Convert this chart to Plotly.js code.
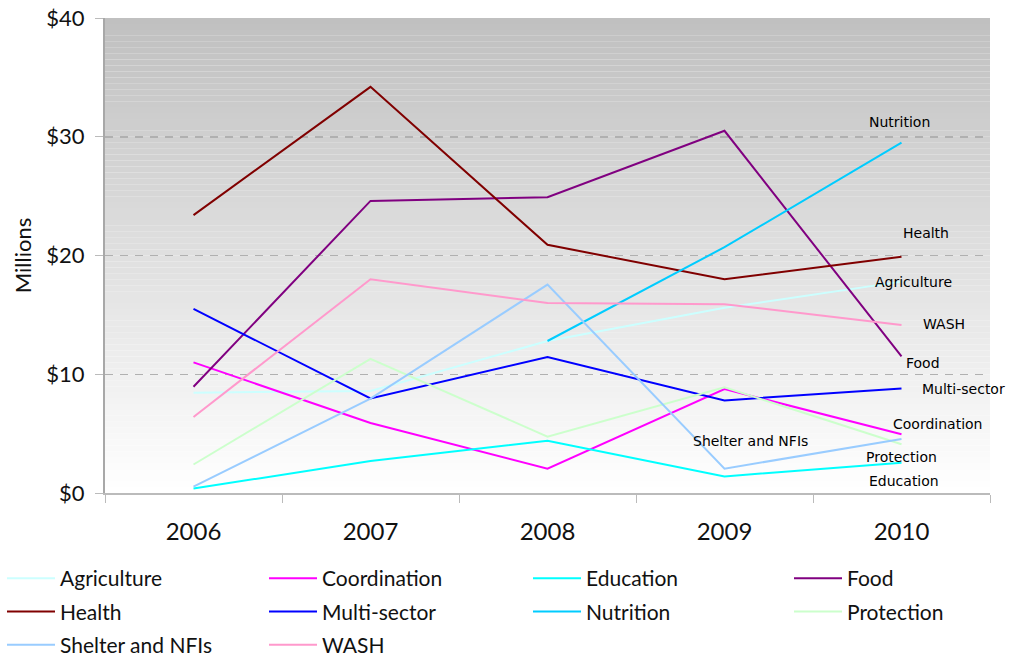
<!DOCTYPE html>
<html>
<head>
<meta charset="utf-8">
<script src="https://cdn.plot.ly/plotly-3.0.1.min.js"></script>
<style>html,body{margin:0;padding:0;background:#fff;}#chart{width:1012px;height:656px;}</style>
</head>
<body>
<div id="chart"></div>
<script>
const years = ['2006','2007','2008','2009','2010'];
const seriesNames = ['Agriculture','Coordination','Education','Food','Health','Multi-sector','Nutrition','Protection','Shelter and NFIs','WASH'];
const agriculture = [8.45, 8.6, 12.8, 15.6, 17.8];
const coordination = [11.0, 5.9, 2.05, 8.75, 4.95];
const education = [0.37, 2.7, 4.4, 1.4, 2.55];
const food = [8.95, 24.6, 24.9, 30.5, 11.5];
const health = [23.4, 34.2, 20.9, 18.0, 19.9];
const multiSector = [15.5, 7.97, 11.45, 7.8, 8.8];
const nutrition = [null, null, 12.8, 20.7, 29.5];
const protection = [2.4, 11.3, 4.75, 8.9, 4.1];
const shelter = [0.53, 7.95, 17.55, 2.05, 4.55];
const wash = [6.4, 18.0, 16.0, 15.9, 14.15];
const seriesValues = [agriculture, coordination, education, food, health, multiSector, nutrition, protection, shelter, wash];
const colors = ['#ccffff','#ff00ff','#00ffff','#800080','#800000','#0000ff','#00ccff','#ccffcc','#99ccff','#ff99cc'];
// legend column for each series (4 columns, row-major like the original)
const legendColumn = ['legend','legend2','legend3','legend4','legend','legend2','legend3','legend4','legend','legend2'];
// label offsets (px) from the 2010 point
const labelShift = {
  'Agriculture':[12,0], 'Coordination':[36,10], 'Education':[2,-18], 'Food':[21,-7],
  'Health':[24,24], 'Multi-sector':[62,0], 'Nutrition':[-2,21], 'Protection':[0,-13],
  'Shelter and NFIs':[-151,-2], 'WASH':[42,1]
};

const traces = seriesNames.map((n,i)=>({
  type:'scatter', mode:'lines', name:n, x:years, y:seriesValues[i],
  line:{color:colors[i], width:2}, connectgaps:false, hoverinfo:'skip',
  legend:legendColumn[i], legendgroup:n
}));

const lastIndex = years.length - 1;
const annotations = seriesNames.map((n,i)=>({
  x: lastIndex, y: seriesValues[i][lastIndex], xref:'x', yref:'y', text:n, showarrow:false,
  xshift: labelShift[n][0], yshift: labelShift[n][1],
  font:{family:'DejaVu Sans', size:14, color:'#000000'}, xanchor:'center', yanchor:'middle'
}));

// gradient background strips
const shapes = [];
const N = 80;
for (let k=0;k<N;k++){
  const t = k/(N-1); // 0 bottom -> 1 top
  const v = Math.round(255 - (255-192)*t);
  shapes.push({type:'rect', xref:'paper', yref:'paper', x0:0, x1:1, y0:k/N, y1:(k+1)/N,
    fillcolor:`rgb(${v},${v},${v})`, line:{width:0}, layer:'below'});
}

function leg(xpx){
  return {orientation:'v', x:(xpx-105)/885, xanchor:'left', y:(493-558)/475, yanchor:'top',
    font:{size:21, color:'#111'}, itemwidth:48, tracegroupgap:3, bgcolor:'rgba(0,0,0,0)'};
}

const layout = {
  width:1012, height:656,
  margin:{l:105, r:22, t:18, b:163, autoexpand:false},
  paper_bgcolor:'#ffffff', plot_bgcolor:'#ffffff',
  font:{family:'Lato, "Noto Sans", sans-serif', size:22, color:'#111'},
  showlegend:true,
  legend:leg(2), legend2:leg(264), legend3:leg(528), legend4:leg(789),
  xaxis:{type:'category', range:[-0.5,4.5], tickson:'boundaries', ticks:'outside', ticklen:8,
    tickcolor:'#bbbbbb', showline:true, linecolor:'#bbbbbb', linewidth:2, showgrid:false,
    tickfont:{size:24}, ticklabelstandoff:16, fixedrange:true},
  yaxis:{range:[0,40], dtick:10, tickprefix:'$', ticks:'outside', ticklen:8, tickcolor:'#bbbbbb',
    showline:true, linecolor:'#a8a8a8', linewidth:2, showgrid:true, gridcolor:'#b0b0b0',
    griddash:'8px,7px', gridwidth:1.5, zeroline:false, tickfont:{size:22}, ticklabelstandoff:6,
    title:{text:'Millions', font:{size:22}, standoff:9}},
  shapes:shapes,
  annotations:annotations
};

Plotly.newPlot('chart', traces, layout, {staticPlot:true, displayModeBar:false});
</script>
</body>
</html>
